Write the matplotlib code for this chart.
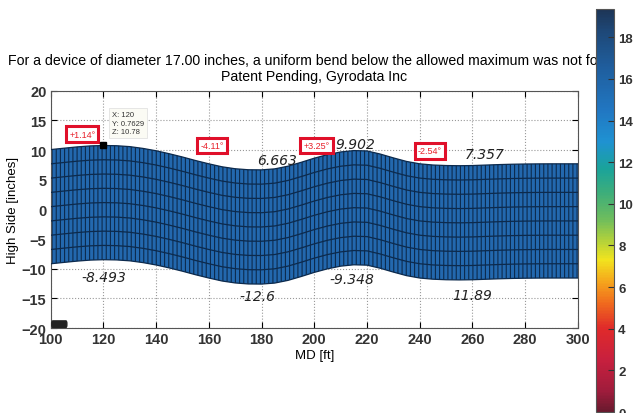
import numpy as np
import matplotlib
matplotlib.use("Agg")
import matplotlib.pyplot as plt
from matplotlib.colors import LinearSegmentedColormap, Normalize
from matplotlib.patches import FancyBboxPatch
from matplotlib.transforms import Bbox, TransformedBbox
import matplotlib.cm as cm

plt.rcParams['font.family'] = ['Liberation Sans', 'DejaVu Sans']
plt.rcParams['hatch.linewidth'] = 0.8

# centre line of the tool (inches) every 5 ft
md = [100, 105, 110, 115, 120, 125, 130, 135, 140, 145, 150, 155, 160, 165,
      170, 175, 180, 185, 190, 195, 200, 205, 210, 215, 220, 225, 230, 235,
      240, 245, 250, 255, 260, 265, 270, 275, 280, 285, 290, 295, 300]
centre = [0.45, 0.68, 0.90, 1.07, 1.14, 1.10, 0.95, 0.65, 0.25, -0.25, -0.80,
          -1.40, -1.95, -2.45, -2.78, -2.95, -2.97, -2.80, -2.35, -1.70, -1.00,
          -0.40, 0.05, 0.28, 0.22, -0.30, -0.95, -1.55, -1.95, -2.15, -2.24,
          -2.27, -2.24, -2.16, -2.08, -2.02, -1.98, -1.96, -1.95, -1.95, -1.95]
width = 19.25
n_rows = 8

# bend angles (red boxes) and handwritten edge values
bend_labels = ['+1.14°', '-4.11°', '+3.25°', '-2.54°']
bend_pos = [(112, 12.7), (161.2, 10.8), (200.8, 10.8), (243.9, 9.85)]
hand_labels = ['6.663', '9.902', '7.357', '-8.493', '-12.6', '-9.348', '11.89']
hand_pos = [(186, 8.3), (215.5, 11.0), (264.7, 9.3), (120.2, -11.4),
            (178.5, -14.6), (214.4, -11.7), (259.8, -14.4)]

cb_ticks = [0, 2, 4, 6, 8, 10, 12, 14, 16, 18]

md = np.array(md)
centre = np.array(centre)
upper = centre + width / 2
lower = centre - width / 2

fig = plt.figure(figsize=(6.33, 4.14), dpi=100)
ax = fig.add_axes([0.080, 0.2053, 0.833, 0.5732])

# surface
ax.fill_between(md, lower, upper, facecolor='#2368ae', edgecolor='#0c2a4d',
                hatch='||||', linewidth=0, zorder=2)
for k in range(n_rows + 1):
    yk = lower + k / n_rows * (upper - lower)
    ax.plot(md, yk, color='#0c2a4d', lw=0.9, zorder=3)

ax.set_xlim(100, 300)
ax.set_ylim(-20, 20)
ax.set_xticks(range(100, 301, 20))
ax.set_yticks(range(-20, 21, 5))
ax.grid(True, linestyle=':', color='#999999', lw=0.8)
ax.set_axisbelow(True)
ax.tick_params(direction='in', length=4, top=True, right=True, labelsize=10.5,
               pad=3)
for lab in ax.get_xticklabels() + ax.get_yticklabels():
    lab.set_fontweight('bold')
    lab.set_color('#333333')
for s in ax.spines.values():
    s.set_color('#555555')
    s.set_linewidth(0.8)

ax.set_xlabel('MD [ft]', fontsize=9.5, labelpad=2)
ax.set_ylabel('High Side [inches]', fontsize=9.5, labelpad=2)
title = ax.set_title('For a device of diameter 17.00 inches, a uniform bend below the '
                     'allowed maximum was not found\nPatent Pending, Gyrodata Inc',
                     fontsize=10.2, pad=8, linespacing=1.15)
# the colorbar hides the end of the long title
title.set_clip_box(TransformedBbox(Bbox([[0, 0], [596 / 633, 1]]), fig.transFigure))
title.set_clip_on(True)

# red bend boxes
for lab, (x, y) in zip(bend_labels, bend_pos):
    ax.text(x, y, lab, color='#e8202a', fontsize=6.5, ha='center', va='center',
            zorder=6, bbox=dict(boxstyle='square,pad=0.35', fc='white',
                                ec='#e0102a', lw=2.2))

# handwritten values
for lab, (x, y) in zip(hand_labels, hand_pos):
    ax.text(x, y, lab, fontsize=10, style='italic', family='DejaVu Sans',
            color='#222222', ha='center', va='center', zorder=6)

# data tip
ax.plot([120], [10.78], 's', color='black', ms=4, zorder=7)
ax.text(123.2, 16.6, 'X: 120\nY: 0.7629\nZ: 10.78', fontsize=5.5, ha='left',
        va='top', color='#333333', linespacing=1.35, zorder=7,
        bbox=dict(boxstyle='square,pad=0.4', fc='#fbfbf4', ec='#dddddd', lw=0.5))

ax.add_patch(FancyBboxPatch((100.6, -19.75), 5.4, 0.8,
                            boxstyle='round,pad=0.15,rounding_size=0.4',
                            fc='#222222', ec='#222222', clip_on=False, zorder=8))

# colorbar
cmap = LinearSegmentedColormap.from_list('gyro', [
    (0.0, '#6a1a2e'), (1.0 / 19.36, '#a01c3c'), (2.5 / 19.36, '#c8203e'),
    (4.0 / 19.36, '#e02a2a'), (5.2 / 19.36, '#f06a1e'), (6.2 / 19.36, '#f5a31c'),
    (7.3 / 19.36, '#f2e41e'), (8.2 / 19.36, '#b4d23a'), (9.3 / 19.36, '#6cbc5e'),
    (10.5 / 19.36, '#3eae7a'), (11.7 / 19.36, '#1aa39a'), (13.0 / 19.36, '#1f92d2'),
    (14.5 / 19.36, '#2177c2'), (16.5 / 19.36, '#1f5f9f'), (18.3 / 19.36, '#1e4878'),
    (1.0, '#1d3556')])
cax = fig.add_axes([596 / 633, 0.0024, 18 / 633, 0.9734])
sm = cm.ScalarMappable(norm=Normalize(0, 19.36), cmap=cmap)
cb = fig.colorbar(sm, cax=cax, ticks=cb_ticks)
cb.outline.set_edgecolor('#555555')
cb.outline.set_linewidth(0.8)
cax.tick_params(direction='in', length=4, labelsize=9.5, pad=3, color='#333333')
for lab in cax.get_yticklabels():
    lab.set_fontweight('bold')
    lab.set_color('#333333')

fig.savefig('out.png', dpi=100)
